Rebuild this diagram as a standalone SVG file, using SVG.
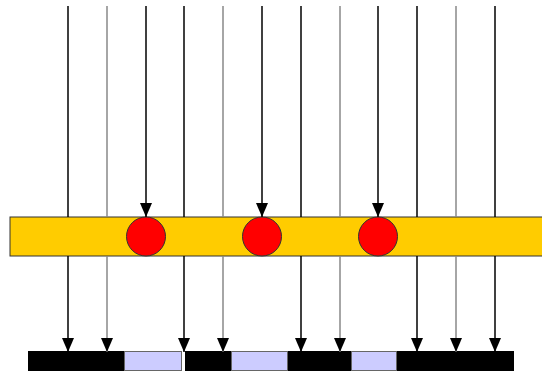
<svg xmlns="http://www.w3.org/2000/svg" width="542" height="373" viewBox="0 0 542 373">
<style>
.k{stroke:#000;stroke-width:1.5;fill:none}
.g{stroke:#888;stroke-width:1.5;fill:none}
.ah{fill:#000}
.bar{fill:#ffcc00;stroke:#333;stroke-width:1}
.dot{fill:#ff0000;stroke:#333;stroke-width:1}
.blk{fill:#000}
.lav{fill:#ccccff;stroke:#666;stroke-width:1}
</style>
<defs>
<marker id="a" markerWidth="14" markerHeight="12" refX="14" refY="6" orient="auto" markerUnits="userSpaceOnUse" viewBox="0 0 14 12">
<path d="M0,0 L14,6 L0,12 Z" class="ah"/>
</marker>
</defs>
<g id="band">
<rect class="bar" x="10" y="217" width="540" height="39"/>
</g>
<g id="track">
<rect class="blk" x="28" y="351" width="154" height="20"/>
<rect class="lav" x="124.5" y="351.5" width="57" height="19"/>
<rect class="blk" x="185" y="351" width="329" height="20"/>
<rect class="lav" x="231.5" y="351.5" width="56" height="19"/>
<rect class="lav" x="351.5" y="351.5" width="45" height="19"/>
</g>
<g id="dots">
<circle id="d1" class="dot" cx="146" cy="236.5" r="19.5"/>
<circle id="d2" class="dot" cx="262" cy="236.5" r="19.5"/>
<circle id="d3" class="dot" cx="378" cy="236.5" r="19.5"/>
</g>
<g id="connectors">
<line class="k" x1="68" y1="6" x2="68" y2="217"/>
<line class="g" x1="107" y1="6" x2="107" y2="217"/>
<line class="k" x1="146" y1="6" x2="146" y2="217" marker-end="url(#a)"/>
<line class="k" x1="184" y1="6" x2="184" y2="217"/>
<line class="g" x1="223" y1="6" x2="223" y2="217"/>
<line class="k" x1="262" y1="6" x2="262" y2="217" marker-end="url(#a)"/>
<line class="k" x1="301" y1="6" x2="301" y2="217"/>
<line class="g" x1="340" y1="6" x2="340" y2="217"/>
<line class="k" x1="378" y1="6" x2="378" y2="217" marker-end="url(#a)"/>
<line class="k" x1="417" y1="6" x2="417" y2="217"/>
<line class="g" x1="456" y1="6" x2="456" y2="217"/>
<line class="k" x1="495" y1="6" x2="495" y2="217"/>

<line class="k" x1="68" y1="256" x2="68" y2="352" marker-end="url(#a)"/>
<line class="g" x1="107" y1="256" x2="107" y2="352" marker-end="url(#a)"/>
<line class="k" x1="184" y1="256" x2="184" y2="352" marker-end="url(#a)"/>
<line class="g" x1="223" y1="256" x2="223" y2="352" marker-end="url(#a)"/>
<line class="k" x1="301" y1="256" x2="301" y2="352" marker-end="url(#a)"/>
<line class="g" x1="340" y1="256" x2="340" y2="352" marker-end="url(#a)"/>
<line class="k" x1="417" y1="256" x2="417" y2="352" marker-end="url(#a)"/>
<line class="g" x1="456" y1="256" x2="456" y2="352" marker-end="url(#a)"/>
<line class="k" x1="495" y1="256" x2="495" y2="352" marker-end="url(#a)"/>
</g>
</svg>
